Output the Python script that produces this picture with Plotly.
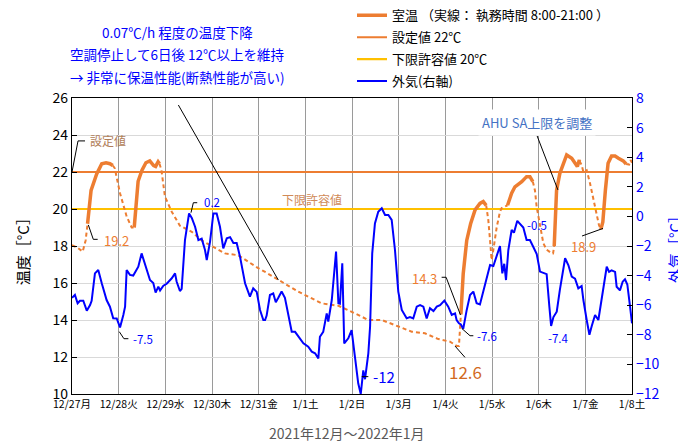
import plotly.graph_objects as go

# ---------------- data ----------------
# hours elapsed since 2021-12-27 00:00
day_tick_hours = [0, 24, 48, 72, 96, 120, 144, 168, 192, 216, 240, 264, 288]
day_tick_labels = ["12/27月", "12/28火", "12/29水", "12/30木", "12/31金", "1/1土", "1/2日",
                   "1/3月", "1/4火", "1/5水", "1/6木", "1/7金", "1/8土"]

room_hours = [0, 3, 5.5, 7, 8, 9.8, 12.7, 15.3, 17.5, 19.5, 21, 22, 24.7, 28.1, 30.7, 32, 33, 34, 36,
              38, 40, 42, 43, 44.3, 45, 46, 47.8, 51.3, 55.5, 61.6, 66.7, 71.8, 78.7, 85.5, 89.8,
              95.8, 99.3, 106.1, 116.4, 128.4, 137, 145.5, 152.4, 159.3, 166.1, 174.7, 181.5,
              188.4, 194.4, 197.8, 199, 199.6, 200, 201.2, 203, 205, 207.3, 209.8, 211.5, 213,
              214.1, 215, 215.8, 216.7, 218.4, 220.1, 221, 224, 226.1, 227.8, 231.3, 233.8,
              235.5, 237, 238.1, 239, 240.7, 242.4, 244.1, 246.7, 247.4, 248, 248.6, 249.2,
              250.9, 252.7, 254.4, 257, 258.7, 259.9, 260.9, 261, 262.1, 263, 264.7, 266.4,
              268.1, 269.8, 271, 272, 273, 274.3, 275.7, 277.5, 279.3, 281, 283.5, 285, 286.5,
              287.3, 288]
room_temp = [18.05, 17.9, 17.7, 18.3, 19.2, 21.0, 21.9, 22.45, 22.5, 22.45, 22.35, 22.2, 20.85,
             19.6, 19.0, 19.0, 20.4, 21.5, 22.1, 22.5, 22.6, 22.35, 22.3, 22.55, 22.45, 22.1,
             20.67, 19.85, 19.1, 18.77, 18.3, 18.0, 17.6, 17.5, 17.2, 16.8, 16.6, 16.16, 15.53,
             14.9, 14.77, 14.36, 14.0, 14.0, 13.73, 13.37, 13.28, 12.97, 12.83, 12.6, 12.6, 13.5,
             14.3, 16.5, 18.3, 19.2, 19.95, 20.3, 20.4, 20.2, 19.4, 18.3, 17.24, 17.8, 19.0,
             19.85, 20.05, 20.2, 20.85, 21.2, 21.48, 21.75, 21.75, 21.48, 21.0, 20.1, 19.04,
             18.15, 17.8, 17.6, 17.6, 18.0, 19.5, 21.0, 21.93, 22.47, 22.92, 22.74, 22.47,
             22.3, 22.65, 22.6, 22.38, 22.0, 22.1, 21.39, 20.49, 19.77, 19.14, 18.9, 19.3,
             21.0, 22.47, 22.86, 22.86, 22.74, 22.6, 22.43, 22.4, 22.65, 22.5]

# days (index from 12/27) on which the HVAC ran 8:00-21:00
work_days = [0, 1, 8, 9, 10, 11]
work_start, work_end = 8, 21

out_hours = [0, 1.5, 2.9, 4.1, 5.8, 7.6, 9.3, 10.1, 11.8, 13.5, 15.3, 17.8, 19.5, 21.2, 23, 24.7,
             26.4, 27.3, 28.1, 29.8, 31.5, 34.1, 35.8, 37.5, 40.1, 41.8, 43, 44.4, 45.3, 47, 48.7,
             51.3, 53, 53.8, 55.5, 56.4, 58.1, 60.2, 61.6, 63.3, 65, 66.7, 68.4, 69.3, 71, 72.7,
             74.4, 76.1, 77.8, 79.6, 81.3, 83, 84.7, 86.4, 89, 91.5, 93.2, 95, 96.7, 98.4, 99.3,
             100.1, 101.8, 103.5, 104.8, 106.1, 107.8, 109.5, 111.2, 113, 114.7, 116.4, 119,
             121.5, 123.3, 125, 126.7, 127.5, 129.2, 131, 131.8, 133.6, 134.7, 135.8, 137, 137.8,
             139, 140, 142.1, 143.8, 145.5, 147.2, 148.5, 149.8, 150.7, 152.4, 153.3, 154.4,
             155.8, 157.5, 159.3, 161, 162.7, 164.4, 166.1, 167.8, 169.6, 172.1, 173.8, 175.5,
             177.3, 179, 180.7, 182.4, 184.1, 185.9, 187.6, 189.3, 191.5, 193.5, 195.3, 197,
             197.8, 199, 200, 201.2, 203, 204.7, 206.4, 208.1, 209.8, 211.5, 213.3, 215, 216.7,
             218.4, 220.1, 221.3, 222.3, 223.2, 224.4, 226.1, 227.3, 229, 230.4, 232.1, 233.8,
             235.5, 237.2, 239, 240.7, 242.4, 244.1, 245.5, 246.4, 247.6, 249.3, 250.9, 252.4,
             253.6, 255.3, 257, 258.7, 260.4, 262.1, 263, 264.7, 266.1, 267.3, 269, 270.7, 273.3,
             275, 276.2, 277.5, 279.3, 280.1, 281.8, 283.2, 284.4, 285.6, 287, 288]
out_temp = [-5.5, -5.3, -5.87, -5.7, -5.7, -6.37, -5.99, -5.7, -3.85, -3.62, -4.52, -5.65, -6.1,
            -6.89, -6.9, -7.5, -6.66, -6.1, -3.62, -3.95, -4.0, -3.4, -2.5, -3.28, -4.3, -4.5,
            -5.15, -4.75, -5.0, -4.68, -4.55, -4.18, -3.85, -4.4, -5.04, -4.9, -1.6, 0.2, -0.1,
            -0.7, -1.6, -1.5, -2.27, -2.95, -1.7, 0.2, 0.2, -0.7, -2.16, -1.48, -1.4, -1.8, -1.8,
            -2.72, -4.52, -5.42, -4.86, -5.1, -6.32, -7.0, -7.0, -6.7, -5.31, -5.2, -5.8, -5.5,
            -5.08, -5.5, -6.55, -7.79, -7.8, -8.13, -8.58, -8.8, -9.14, -9.25, -9.59, -8.13,
            -7.8, -6.55, -7.1, -5.65, -3.85, -2.38, -5.87, -5.9, -3.17, -8.58, -8.24, -7.68,
            -9.48, -11.28, -12.0, -10.4, -11.0, -9.25, -7.45, -2.5, -0.47, 0.32, 0.55, 0.1,
            0.1, -0.24, -2.27, -5.08, -6.32, -6.89, -6.8, -6.89, -6.1, -6.0, -6.1, -6.9, -6.2,
            -6.4, -6.1, -6.0, -5.69, -6.1, -6.66, -6.55, -7.0, -7.22, -7.3, -7.6, -6.32, -5.31,
            -5.08, -5.87, -5.95, -5.08, -4.3, -3.28, -3.35, -2.72, -2.0, -3.85, -3.2, -4.3,
            -2.27, -0.92, -1.1, -0.3, -0.5, -0.75, -1.6, -1.6, -2.05, -2.55, -3.73, -3.8, -3.9,
            -6.1, -7.4, -6.8, -6.44, -4.97, -3.85, -2.83, -3.3, -4.07, -4.2, -4.86, -4.7, -5.65,
            -7.0, -8.0, -7.4, -6.66, -7.0, -4.97, -3.4, -3.75, -3.65, -3.75, -4.75, -5.0, -4.41,
            -4.25, -4.6, -6.1, -7.22]

setpoint = 22
lower_limit = 20

# ---------------- styling ----------------
ORANGE = "#ED7D31"
GOLD = "#FFC000"
BLUE = "#0000FF"
FONT = "Noto Sans CJK JP"


def hour_of_day(h):
    d = int(h // 24)
    return d, h - 24 * d


solid_y, dashed_y = [], []
for h, t in zip(room_hours, room_temp):
    d, hod = hour_of_day(h)
    work = d in work_days
    solid_y.append(t if (work and work_start <= hod <= work_end) else None)
    dashed_y.append(None if (work and work_start < hod < work_end) else t)

x_end = day_tick_hours[-1]

fig = go.Figure()
fig.add_trace(go.Scatter(x=[0, x_end], y=[setpoint, setpoint], mode="lines", legendgroup="b",
                         line=dict(color=ORANGE, width=2), name="設定値 22℃", legendrank=2))
fig.add_trace(go.Scatter(x=[0, x_end], y=[lower_limit, lower_limit], mode="lines", legendgroup="c",
                         line=dict(color=GOLD, width=2.2), name="下限許容値 20℃", legendrank=3))
fig.add_trace(go.Scatter(x=room_hours, y=dashed_y, mode="lines", connectgaps=False,
                         line=dict(color=ORANGE, width=2, dash="4px,3px"), showlegend=False))
fig.add_trace(go.Scatter(x=room_hours, y=solid_y, mode="lines", connectgaps=False, legendgroup="a",
                         line=dict(color=ORANGE, width=3.5), name="室温 （実線： 執務時間 8:00-21:00 ）",
                         legendrank=1))
fig.add_trace(go.Scatter(x=out_hours, y=out_temp, mode="lines", yaxis="y2", legendgroup="d",
                         line=dict(color=BLUE, width=2), name="外気(右軸)", legendrank=4))

# ---------------- annotations ----------------
ann = []
leaders = []


def label(x, y, text, color, size=12, xanchor="left", yref="y"):
    ann.append(dict(x=x, y=y, xref="x", yref=yref, text=text, showarrow=False,
                    font=dict(color=color, size=size, family=FONT), xanchor=xanchor, yanchor="middle"))


def leader(pts):
    path = "M " + " L ".join(f"{px},{py}" for px, py in pts)
    leaders.append(dict(type="path", path=path, xref="x", yref="y",
                        line=dict(color="black", width=1)))


# 設定値
leader([(0, 22), (3.1, 23.68), (6.7, 23.68)])
label(8.2, 23.68, "設定値", "#B07D58", 12)
# 下限許容値
label(123.4, 20.54, "下限許容値", "#D08A58", 12, xanchor="center")
# 19.2
leader([(8.4, 19.14), (10.95, 18.36), (13.2, 18.36)])
label(15.3, 18.32, "19.2", ORANGE, 13)
# 0.2
leader([(61.2, 19.8), (62.4, 20.34), (64.4, 20.34)])
label(66.6, 20.38, "0.2", BLUE, 11.5)
# -7.5
leader([(24.3, 13.37), (26.7, 12.99), (29, 12.99)])
label(30.4, 12.97, "-7.5", BLUE, 11.5)
# -12
leader([(149, 10.94), (152.4, 10.94)])
label(153.6, 10.92, "-12", BLUE, 15)
# 14.3
leader([(190.1, 16.31), (192.4, 16.31), (199.8, 14.27)])
label(188.6, 16.27, "14.3", ORANGE, 13, xanchor="right")
# -7.6
leader([(200.4, 13.55), (204.7, 13.15), (206.4, 13.15)])
label(207.0, 13.12, "-7.6", BLUE, 11.5)
# 12.6
leader([(197, 12.59), (202.1, 11.98)])
label(202.4, 11.2, "12.6", "#D2691E", 17, xanchor="center")
# -7.4
label(250, 13.03, "-7.4", BLUE, 11.5, xanchor="center")
# -0.5
label(239.2, 19.14, "-0.5", BLUE, 11.5, xanchor="center")
# 18.9
leader([(262.3, 18.54), (273.1, 18.95)])
label(262.8, 17.95, "18.9", ORANGE, 13, xanchor="center")
# AHU
leader([(239.2, 23.95), (249.9, 21.03)])
ann.append(dict(x=239.2, y=24.65, xref="x", yref="y", text="AHU SA上限を調整", showarrow=False,
                font=dict(color="#4472C4", size=13, family=FONT), bgcolor="white",
                borderpad=3, xanchor="center", yanchor="middle"))
# long diagonal pointer
leader([(54.7, 25.62), (106.1, 16.16)])

# top-left note
note_lines = ["0.07℃/h 程度の温度下降", "空調停止して6日後 12℃以上を維持", "→ 非常に保温性能(断熱性能が高い)"]
for line, yp in zip(note_lines, [1.223, 1.150, 1.072]):
    ann.append(dict(x=0.1875, y=yp, xref="paper", yref="paper", text=line, showarrow=False,
                    font=dict(color=BLUE, size=13.5, family=FONT), xanchor="center", yanchor="middle"))

# axis titles
ann.append(dict(x=-0.089, y=0.493, xref="paper", yref="paper", text="温度［°C］", textangle=-90,
                showarrow=False, font=dict(color="black", size=15, family=FONT),
                xanchor="center", yanchor="middle"))
ann.append(dict(x=1.075, y=0.50, xref="paper", yref="paper", text="外気［°C］", textangle=-90,
                showarrow=False, font=dict(color=BLUE, size=15, family=FONT),
                xanchor="center", yanchor="middle"))
ann.append(dict(x=0.491, y=-0.132, xref="paper", yref="paper", text="2021年12月～2022年1月",
                showarrow=False, font=dict(color="#595959", size=14, family=FONT),
                xanchor="center", yanchor="middle"))

# the page body keeps an 8px margin, so the figure is drawn 8px smaller and offset margins
fig.update_layout(
    width=678, height=433,
    margin=dict(l=64, r=54, t=90, b=47, autoexpand=False),
    paper_bgcolor="white", plot_bgcolor="white",
    font=dict(family=FONT, color="black"),
    annotations=ann, shapes=leaders,
    legend=dict(x=0.5, y=1.33, xanchor="left", yanchor="top", bgcolor="rgba(0,0,0,0)",
                font=dict(size=13, family=FONT, color="black"), tracegroupgap=2),
    xaxis=dict(range=[0, x_end], tickmode="array", tickvals=day_tick_hours, ticktext=day_tick_labels,
               showgrid=True, gridcolor="#9A9A9A", gridwidth=1, showline=True, linecolor="black",
               linewidth=1.3, mirror=True, ticks="", tickfont=dict(size=10.5, family=FONT),
               zeroline=False),
    yaxis=dict(range=[10, 26], dtick=2, showgrid=True, gridcolor="#D9D9D9", gridwidth=1,
               showline=True, linecolor="black", linewidth=1.3, ticks="inside", ticklen=5,
               tickcolor="black", tickfont=dict(size=14, family=FONT), zeroline=False),
    yaxis2=dict(range=[-12, 8], dtick=2, overlaying="y", side="right", anchor="x", showgrid=False,
                showline=True, linecolor="black", linewidth=1.3, ticks="inside", ticklen=5,
                tickcolor="black", tickfont=dict(size=14, color=BLUE, family=FONT), zeroline=False),
)

fig.write_html("out.html")
